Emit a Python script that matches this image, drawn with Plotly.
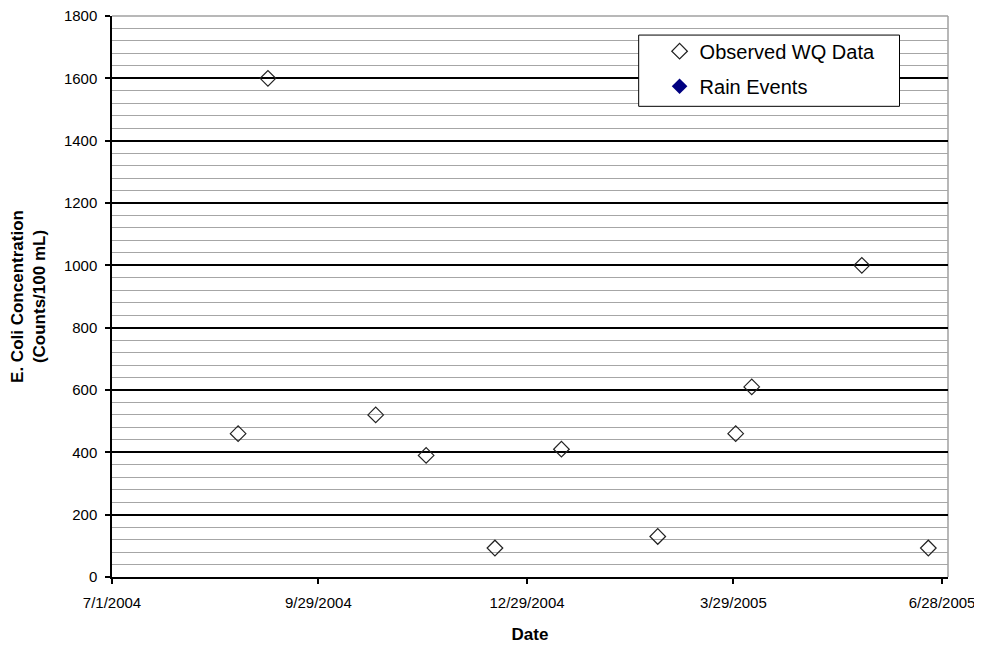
import plotly.graph_objects as go

# observed water quality samples
obs_dates = ['2004-08-25', '2004-09-07', '2004-10-24', '2004-11-15', '2004-12-15', '2005-01-13',
             '2005-02-24', '2005-03-30', '2005-04-06', '2005-05-24', '2005-06-22']
obs_ecoli = [460, 1600, 520, 390, 93, 410, 130, 460, 610, 1000, 93]

# rain events series (no points plotted in this chart)
rain_dates = []
rain_ecoli = []

tick_dates = ['2004-07-01', '2004-09-29', '2004-12-29', '2005-03-29', '2005-06-28']
tick_labels = ['7/1/2004', '9/29/2004', '12/29/2004', '3/29/2005', '6/28/2005']

font = 'Liberation Sans, Arial, sans-serif'

fig = go.Figure()
fig.add_trace(go.Scatter(
    x=obs_dates, y=obs_ecoli, mode='markers', name='Observed WQ Data',
    legendgroup='obs',
    marker=dict(symbol='diamond-open', size=12, color='#222222', line=dict(width=1.2, color='#222222')),
))
# an empty series gets hidden by plotly, so give it a single blank point
fig.add_trace(go.Scatter(
    x=rain_dates or [None], y=rain_ecoli or [None], mode='markers', name='Rain Events',
    legendgroup='rain',
    marker=dict(symbol='diamond', size=12, color='#000080'),
))

# legend box and gray plot-area border on top/right
fig.add_shape(type='rect', xref='paper', yref='paper', x0=0.63, x1=0.942, y0=0.839, y1=0.966,
              line=dict(color='black', width=1), fillcolor='white', layer='above')
fig.add_shape(type='line', xref='paper', yref='paper', x0=0, x1=1, y0=1, y1=1,
              line=dict(color='#a0a0a0', width=1.5), layer='below')
fig.add_shape(type='line', xref='paper', yref='paper', x0=1, x1=1, y0=0, y1=1,
              line=dict(color='#a0a0a0', width=1.5), layer='below')

# page body adds an 8px offset, margins compensate for it
fig.update_layout(
    width=982, height=648,
    margin=dict(l=104, r=42, t=8, b=79, autoexpand=False),
    paper_bgcolor='white', plot_bgcolor='white',
    font=dict(family=font, color='black', size=15),
    showlegend=True,
    legend=dict(x=0.655, y=0.972, xanchor='left', yanchor='top',
                bgcolor='rgba(0,0,0,0)', borderwidth=0,
                font=dict(size=20, family=font), traceorder='grouped', tracegroupgap=6),
    xaxis=dict(
        type='date', range=['2004-07-01', '2005-06-30 14:00'],
        tickvals=tick_dates, ticktext=tick_labels,
        showgrid=False, zeroline=False, automargin=False,
        showline=True, linecolor='black', linewidth=1.5,
        ticks='outside', ticklen=5, tickcolor='black', tickwidth=1.5,
        ticklabelstandoff=6, ticklabeloverflow='allow',
        tickfont=dict(size=15),
        title=dict(text='<b>Date</b>', font=dict(size=17), standoff=18),
    ),
    yaxis=dict(
        range=[0, 1800], dtick=200, tick0=0,
        showgrid=True, gridcolor='black', gridwidth=1.5,
        zeroline=False, automargin=False,
        showline=True, linecolor='black', linewidth=1.5,
        ticks='outside', ticklen=5, tickcolor='black', tickwidth=1.5,
        ticklabelstandoff=5, ticklabeloverflow='allow',
        tickfont=dict(size=15),
        minor=dict(dtick=40, showgrid=True, gridcolor='#a6a6a6', gridwidth=1.2),
        title=dict(text='<b>E. Coli Concentration<br>(Counts/100 mL)</b>', font=dict(size=17), standoff=16),
    ),
)

fig.write_html('out.html')
